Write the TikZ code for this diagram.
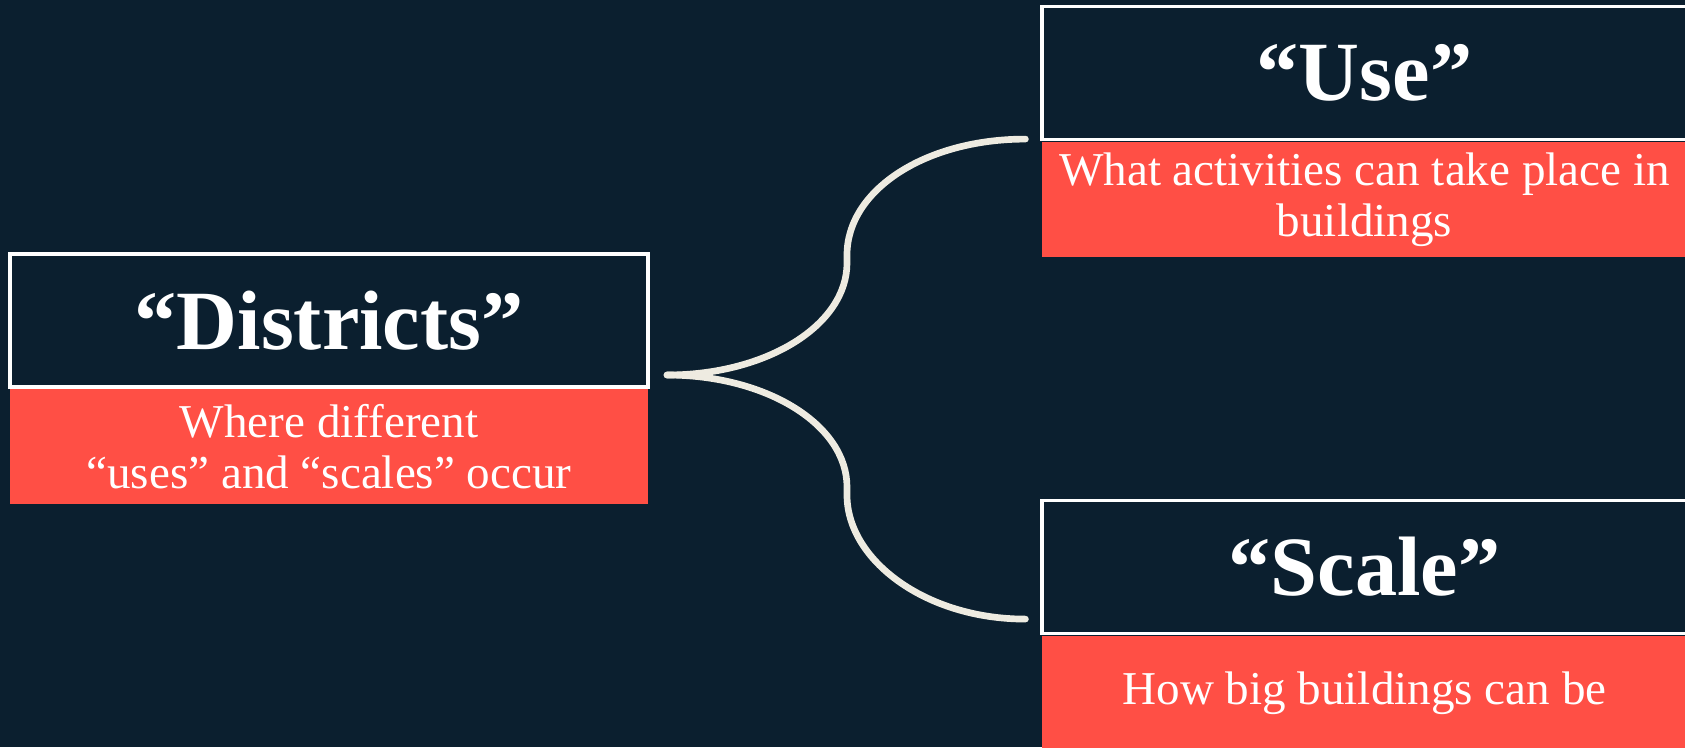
\documentclass[tikz,border=0pt]{standalone}
\usepackage{fontspec}
\setmainfont{Liberation Serif}
\usetikzlibrary{positioning,calc}
\definecolor{navy}{HTML}{0B1F2F}
\definecolor{coral}{HTML}{FF4F45}
\definecolor{cream}{HTML}{EEEBE1}

\begin{document}
\begin{tikzpicture}
	\tikzstyle{titlebox}=[rectangle, draw=white, line width=0.9pt, fill=navy, text=white, minimum width=6.45cm, minimum height=1.33cm, inner sep=0pt, font=\fontsize{24}{28}\selectfont\bfseries]
	\tikzstyle{notebox}=[rectangle, fill=coral, text=white, minimum width=6.45cm, minimum height=1.15cm, inner sep=0pt, align=center, font=\fontsize{13.4}{14.5}\selectfont]
	\tikzstyle{branch}=[draw=cream, line width=1.9pt, line cap=round]
	\fill[navy] (0,0) rectangle (16.85,-7.47);
	\useasboundingbox (0,0) rectangle (16.85,-7.47);

	\node[titlebox, minimum width=6.38cm] (districts) at (3.29,-3.205) {“Districts”};
	\node[notebox, minimum width=6.38cm, below=0pt of districts] (districtsnote) {Where different\\“uses” and “scales” occur};

	\node[titlebox] (use) at (13.645,-0.73) {“Use”};
	\node[notebox, below=0pt of use] (usenote) {What activities can take place in\\buildings};

	\node[titlebox] (scale) at (13.645,-5.67) {“Scale”};
	\node[notebox, below=0pt of scale] (scalenote) {How big buildings can be};

	% fork of the two branches
	\coordinate (fork) at (6.67,-3.75);
	\coordinate (upbend) at (8.47,-2.55);
	\coordinate (downbend) at (8.47,-4.95);
	\coordinate (useend) at ($(use.south west)+(-0.15,0.02)$);
	\coordinate (scaleend) at ($(scale.south west)+(-0.15,0.16)$);
	\draw[branch] (fork) .. controls +(1.0,0) and +(0,-0.62) .. ($(upbend)+(0,-0.08)$) -- (upbend)
		.. controls +(0,0.65) and +(-1.0,0) .. (useend);
	\draw[branch] (fork) .. controls +(1.0,0) and +(0,0.62) .. ($(downbend)+(0,0.08)$) -- (downbend)
		.. controls +(0,-0.65) and +(-1.0,0) .. (scaleend);
\end{tikzpicture}
\end{document}
